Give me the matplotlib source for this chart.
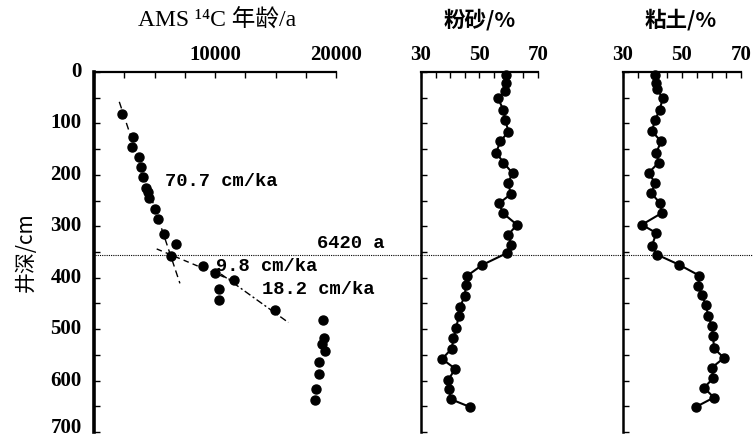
import matplotlib
matplotlib.use("Agg")
import matplotlib.pyplot as plt
from matplotlib.lines import Line2D
from matplotlib.transforms import blended_transform_factory, ScaledTranslation

plt.rcParams['font.family'] = ['Liberation Serif', 'DejaVu Serif', 'Noto Sans CJK SC']

# ---- data ----
age_vals = [2340, 3200, 3110, 3750, 3880, 4080, 4300, 4440, 4570, 5040, 5300, 5810,
            6780, 6340, 9040, 10000, 11570, 10360, 10360, 14960, 18900, 19010,
            18870, 19090, 18620, 18600, 18320, 18260]
age_depth = [82, 126, 145, 166, 185, 205, 225, 234, 245, 267, 285, 315,
             335, 357, 377, 391, 404, 422, 444, 463, 482, 517,
             529, 543, 564, 587, 617, 638]

fit1_age = [2090, 7100]
fit1_depth = [58, 411]
fit2_age = [5180, 11500]
fit2_depth = [344, 406]
fit3_age = [10500, 16060]
fit3_depth = [393, 487]

silt_depth = [6, 22, 36, 51, 74, 93, 116, 135, 157, 176, 197, 216, 237, 255, 274, 297,
              316, 336, 352, 375, 397, 414, 435, 456, 475, 498, 518, 538, 558, 577,
              598, 617, 636, 651]
silt_vals = [58.9, 58.9, 58.8, 56.3, 58.2, 58.8, 59.9, 57.1, 55.7, 58.2, 61.3, 59.7,
             60.8, 56.8, 57.9, 62.8, 59.9, 60.8, 59.4, 51.0, 45.6, 45.3, 45.0, 43.4,
             42.9, 42.0, 41.1, 40.5, 37.2, 41.7, 39.4, 39.7, 40.1, 46.6]

clay_depth = [6, 22, 33, 51, 74, 93, 115, 135, 157, 176, 196, 216, 236, 255, 274, 297,
              313, 338, 355, 375, 396, 416, 433, 454, 474, 494, 514, 537, 556, 575,
              595, 614, 633, 651]
clay_vals = [40.9, 41.3, 41.5, 43.5, 42.4, 40.9, 39.8, 42.9, 41.3, 42.1, 38.7, 40.9,
             39.6, 42.6, 43.2, 36.4, 41.3, 39.8, 41.5, 49.1, 55.9, 55.5, 56.7, 58.1,
             58.9, 60.1, 60.6, 60.8, 64.2, 60.1, 60.6, 57.5, 60.8, 54.8]

boundary_depth = 355
boundary_label = "6420 a"

age_ticks = [0, 2500, 5000, 7500, 10000, 12500, 15000, 17500, 20000]
age_ticklabels = ["", "", "", "", "10000", "", "", "", "20000"]
pct_ticks = [30, 35, 40, 45, 50, 55, 60, 65, 70]
pct_ticklabels = ["30", "", "", "", "50", "", "", "", "70"]
depth_ticks = list(range(0, 701, 50))
depth_ticklabels = [str(d) if d % 100 == 0 else "" for d in depth_ticks]

titles = ["AMS ¹⁴C 年龄/a", "粉砂/%", "粘土/%"]
ylabel = "井深/cm"
rate_labels = ["70.7 cm/ka", "9.8 cm/ka", "18.2 cm/ka"]

# ---- figure ----
W, H = 753, 437
fig = plt.figure(figsize=(W / 100, H / 100), dpi=100)

top_px, bot_px = 72, 432


def axpos(x0, x1):
    return [x0 / W, (H - bot_px) / H, (x1 - x0) / W, (bot_px - top_px) / H]


ax1 = fig.add_axes(axpos(94, 336))
ax2 = fig.add_axes(axpos(421, 538))
ax3 = fig.add_axes(axpos(623, 741))

serif = ['Liberation Serif', 'DejaVu Serif']
mono = ['Liberation Mono', 'DejaVu Sans Mono']
cjk = ['Noto Sans CJK SC', 'DejaVu Sans']
tick_fs = 15

for ax in (ax1, ax2, ax3):
    ax.set_ylim(700, 0)
    ax.spines['right'].set_visible(False)
    ax.spines['bottom'].set_visible(False)
    ax.spines['top'].set_linewidth(1.6)
    ax.spines['left'].set_linewidth(1.8)
    ax.xaxis.tick_top()
    ax.xaxis.set_label_position('top')
    ax.set_yticks(depth_ticks)
    ax.tick_params(axis='both', direction='in', length=4, width=1.0,
                   labelsize=tick_fs, pad=9)
    ax.tick_params(axis='x', pad=5)
    ax.patch.set_alpha(0)

ax1.spines['left'].set_linewidth(2.6)
ax1.set_yticklabels(depth_ticklabels)
ax2.set_yticklabels([])
ax3.set_yticklabels([])

# left panel
ax1.set_xlim(0, 20000)
ax1.set_xticks(age_ticks)
ax1.set_xticklabels(age_ticklabels)
ax1.plot(fit1_age, fit1_depth, color='black', lw=1.0, ls=(0, (5, 3)))
ax1.plot(fit2_age, fit2_depth, color='black', lw=1.0, ls=(0, (4, 3)))
ax1.plot(fit3_age, fit3_depth, color='black', lw=1.0, ls=(0, (5, 2, 1.5, 2)))
ax1.plot(age_vals, age_depth, 'o', color='black', ms=6.5, clip_on=False)
lab_kw = dict(fontsize=13.5, va='center', ha='left', family=mono, weight='bold',
              clip_on=False)
ax1.text(5900, 213, rate_labels[0], **lab_kw)
ax1.text(10100, 378, rate_labels[1], **lab_kw)
ax1.text(13900, 423, rate_labels[2], **lab_kw)
ax1.text(18450, 333, boundary_label, **lab_kw)
ax1.set_ylabel(ylabel, family=cjk, fontsize=15, labelpad=10)

# silt
ax2.set_xlim(30, 70)
ax2.set_xticks(pct_ticks)
ax2.set_xticklabels(pct_ticklabels)
ax2.plot(silt_vals, silt_depth, '-o', color='black', lw=1.5, ms=6.5, clip_on=False)

# clay
ax3.set_xlim(30, 70)
ax3.set_xticks(pct_ticks)
ax3.set_xticklabels(pct_ticklabels)
ax3.plot(clay_vals, clay_depth, '-o', color='black', lw=1.5, ms=6.5, clip_on=False)

for ax in (ax1, ax2, ax3):
    for lab in ax.get_xticklabels() + ax.get_yticklabels():
        lab.set_family(serif)
        lab.set_weight('bold')
    for lab in ax.get_yticklabels():
        lab.set_va('center')

# nudge the bottom depth label up so it stays inside the figure
last = ax1.yaxis.get_major_ticks()[-1].label1
last.set_transform(last.get_transform() + ScaledTranslation(0, 4 / 100, fig.dpi_scale_trans))

# titles
title_y = 1 - 20 / H
fig.text(217 / W, title_y, titles[0], ha='center', va='center', fontsize=17,
         family=['Liberation Serif', 'DejaVu Serif', 'Noto Sans CJK SC'])
fig.text(480 / W, title_y, titles[1], ha='center', va='center', fontsize=15.5,
         family=cjk, weight='bold')
fig.text(681 / W, title_y, titles[2], ha='center', va='center', fontsize=15.5,
         family=cjk, weight='bold')

# boundary dotted line across the figure
tr = blended_transform_factory(fig.transFigure, ax1.transData)
fig.add_artist(Line2D([95 / W, 1.0], [boundary_depth, boundary_depth],
                      transform=tr, color='black', lw=0.8, ls=(0, (1, 1))))

fig.savefig("out.png", dpi=100)
